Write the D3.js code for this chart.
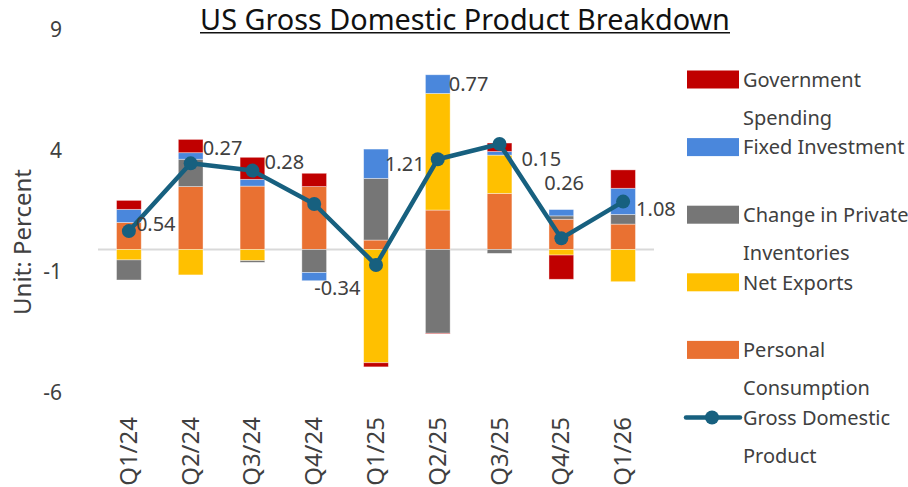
<!DOCTYPE html>
<html>
<head>
<meta charset="utf-8">
<script src="https://cdn.jsdelivr.net/npm/d3@7"></script>
<style>
  body { margin: 0; background: #fff; }
  svg { display: block; font-family: "Noto Sans", "Open Sans", sans-serif; }
</style>
</head>
<body>
<svg id="chart" width="908" height="487"></svg>
<script>
// quarters on the x axis
var quarters = ["Q1/24", "Q2/24", "Q3/24", "Q4/24", "Q1/25", "Q2/25", "Q3/25", "Q4/25", "Q1/26"];

// contributions, percentage points
var personal    = [1.12, 2.60, 2.62, 2.60, 0.39, 1.63, 2.32, 1.25, 1.05];
var netExports  = [-0.43, -1.05, -0.46, 0.00, -4.68, 4.82, 1.58, -0.23, -1.33];
var inventories = [-0.83, 1.13, -0.07, -0.95, 2.55, -3.46, -0.16, 0.14, 0.40];
var fixedInv    = [0.54, 0.27, 0.28, -0.34, 1.21, 0.77, 0.15, 0.26, 1.08];
var government  = [0.37, 0.55, 0.91, 0.55, -0.17, -0.03, 0.35, -1.00, 0.76];
var gdp         = [0.76, 3.56, 3.26, 1.88, -0.64, 3.73, 4.36, 0.46, 1.98];

var yTicks = [-6, -1, 4, 9];

var svg = d3.select("#chart");

var keys = ["personal", "netExports", "inventories", "fixedInv", "government"];
var colors = {
  personal: "#E97132", netExports: "#FFC000", inventories: "#767676",
  fixedInv: "#4A87DC", government: "#C00000"
};
var lineColor = "#17607F";
var textColor = "#404040";

var rows = quarters.map(function(q, i) {
  return { q: q, personal: personal[i], netExports: netExports[i],
           inventories: inventories[i], fixedInv: fixedInv[i], government: government[i] };
});

var x = d3.scaleBand().domain(quarters).range([98, 654]).paddingInner(0.6).paddingOuter(0.3);
var y = d3.scaleLinear().domain([-6, 9]).range([394.7, 31.7]);

var series = d3.stack().keys(keys).offset(d3.stackOffsetDiverging)(rows);

/* zero line */
svg.append("line")
  .attr("x1", 98).attr("x2", 654)
  .attr("y1", y(0)).attr("y2", y(0))
  .attr("stroke", "#D9D9D9").attr("stroke-width", 2);

/* stacked bars */
svg.append("g").selectAll("g").data(series).enter().append("g")
  .attr("fill", function(d) { return colors[d.key]; })
  .selectAll("rect").data(function(d) { return d; }).enter().append("rect")
  .attr("x", function(d) { return x(d.data.q); })
  .attr("width", x.bandwidth())
  .attr("y", function(d) { return y(Math.max(d[0], d[1])); })
  .attr("height", function(d) { return Math.abs(y(d[0]) - y(d[1])); })
  .attr("stroke", "#fff").attr("stroke-opacity", 0.5).attr("stroke-width", 0.75);

/* y axis labels (no axis line) */
svg.append("g").selectAll("text").data(yTicks).enter().append("text")
  .attr("x", 62).attr("y", function(d) { return y(d) + 5; })
  .attr("text-anchor", "end")
  .attr("font-size", 21).attr("fill", textColor)
  .text(function(d) { return d; });

/* x axis labels, rotated */
svg.append("g").selectAll("text").data(quarters).enter().append("text")
  .attr("transform", function(d) {
    return "translate(" + (x(d) + x.bandwidth() / 2 + 8) + ",417) rotate(-90)";
  })
  .attr("text-anchor", "end")
  .attr("font-size", 24).attr("fill", textColor)
  .text(function(d) { return d; });

/* GDP line */
var cx = function(i) { return x(quarters[i]) + x.bandwidth() / 2; };
svg.append("path")
  .datum(gdp)
  .attr("fill", "none").attr("stroke", lineColor).attr("stroke-width", 4.5)
  .attr("stroke-linejoin", "round")
  .attr("d", d3.line().x(function(d, i) { return cx(i); }).y(function(d) { return y(d); }));
svg.append("g").selectAll("circle").data(gdp).enter().append("circle")
  .attr("cx", function(d, i) { return cx(i); })
  .attr("cy", function(d) { return y(d); })
  .attr("r", 7).attr("fill", lineColor);

/* fixed investment labels, moved by hand like in the original sheet */
var labelNudge = [[7, 8], [12, -8], [12, -21], [0, 11], [9, 0], [11, 0], [22, 5], [-17, -30], [13, 7]];
var fixedSeries = series[keys.indexOf("fixedInv")];
svg.append("g").selectAll("text").data(fixedSeries).enter().append("text")
  .attr("x", function(d, i) { return cx(i) + labelNudge[i][0]; })
  .attr("y", function(d, i) { return (y(d[0]) + y(d[1])) / 2 + labelNudge[i][1]; })
  .attr("dy", "0.36em")
  .attr("font-size", 20).attr("fill", textColor)
  .text(function(d, i) { return fixedInv[i].toFixed(2); });

/* title */
var title = svg.append("text")
  .attr("x", 465).attr("y", 30)
  .attr("text-anchor", "middle")
  .attr("font-size", 28).attr("fill", "#111")
  .text("US Gross Domestic Product Breakdown");
var tw = title.node().getComputedTextLength();
if (tw > 0) { title.attr("font-size", 28 * 530 / tw); tw = 530; }
svg.append("line")
  .attr("x1", 465 - tw / 2).attr("x2", 465 + tw / 2)
  .attr("y1", 32.8).attr("y2", 32.8)
  .attr("stroke", "#111").attr("stroke-width", 1.6);

/* y title */
svg.append("text")
  .attr("transform", "translate(31,242) rotate(-90)")
  .attr("text-anchor", "middle")
  .attr("font-size", 24).attr("fill", textColor)
  .text("Unit: Percent");

/* legend */
var legendItems = [
  { key: "government", lines: ["Government", "Spending"] },
  { key: "fixedInv", lines: ["Fixed Investment"] },
  { key: "inventories", lines: ["Change in Private", "Inventories"] },
  { key: "netExports", lines: ["Net Exports"] },
  { key: "personal", lines: ["Personal", "Consumption"] },
  { key: "gdp", lines: ["Gross Domestic", "Product"] }
];
var legend = svg.append("g").selectAll("g").data(legendItems).enter().append("g")
  .attr("transform", function(d, i) { return "translate(0," + (79.5 + i * 67.6) + ")"; });
legend.filter(function(d) { return d.key != "gdp"; }).append("rect")
  .attr("x", 687).attr("y", -9).attr("width", 52).attr("height", 18)
  .attr("fill", function(d) { return colors[d.key]; });
var gl = legend.filter(function(d) { return d.key == "gdp"; });
gl.append("line").attr("x1", 686).attr("x2", 740).attr("y1", 0).attr("y2", 0)
  .attr("stroke", lineColor).attr("stroke-width", 4.5).attr("stroke-linecap", "round");
gl.append("circle").attr("cx", 712).attr("cy", 0).attr("r", 7).attr("fill", lineColor);
legend.selectAll("text").data(function(d) { return d.lines; }).enter().append("text")
  .attr("x", 743).attr("y", function(d, j) { return j * 38; })
  .attr("dy", "0.36em")
  .attr("font-size", 20).attr("fill", textColor)
  .text(function(d) { return d; });
</script>
</body>
</html>
